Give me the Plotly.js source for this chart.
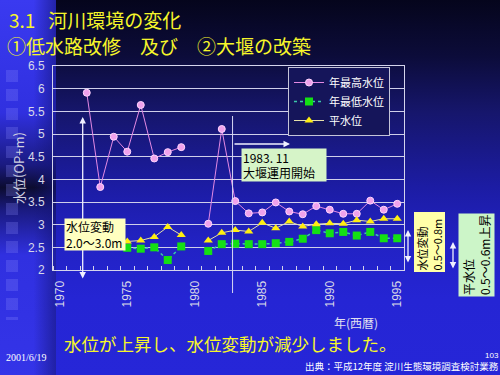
<!DOCTYPE html>
<html>
<head>
<meta charset="utf-8">
<script src="https://cdn.plot.ly/plotly-3.0.1.min.js"></script>
<style>
  html, body { margin: 0; padding: 0; width: 500px; height: 375px; overflow: hidden; }
  #bg { position: absolute; left: 0; top: 0; width: 500px; height: 375px;
        background: linear-gradient(to bottom, #05051c 0%, #0c0c3a 15%, #16166c 30%, #1c1ca4 50%, #2222c4 65%, #2525d4 80%, #2626d8 100%); }
  #strip { position: absolute; left: 0; top: 0; width: 56px; height: 375px;
        background: linear-gradient(to bottom, #3a3af0 0%, #3030e0 30%, #1a1a80 44%, #0c0c30 50%, #1a1a80 56%, #3030e0 68%, #3434e8 100%); }
  #strip::after { content: ""; position: absolute; left: 0; top: 0; width: 56px; height: 375px;
        background: linear-gradient(to right, rgba(0,0,0,0) 60%, rgba(20,20,120,0.6) 100%); }
  #sq { position: absolute; left: 6px; top: 70px; width: 12px; height: 250px;
        background: repeating-linear-gradient(to bottom, rgba(140,140,255,0.25) 0px, rgba(140,140,255,0.25) 12px, rgba(0,0,0,0) 12px, rgba(0,0,0,0) 19px); }
  #chart { position: absolute; left: 0; top: 0; width: 500px; height: 375px; }
</style>
</head>
<body>
<div id="bg"></div>
<div id="strip"></div>
<div id="sq"></div>
<div id="chart"></div>
<script>
// ---- data ----
const years = [1970,1971,1972,1973,1974,1975,1976,1977,1978,1979,1980,1981,1982,1983,1984,1985,1986,1987,1988,1989,1990,1991,1992,1993,1994,1995];
const annualMax = [null,null,5.91,3.83,4.94,4.61,5.64,4.46,4.60,4.71,null,3.02,5.11,3.52,3.25,3.27,3.49,3.29,3.23,3.41,3.33,3.24,3.24,3.53,3.33,3.46];
const annualMin = [null,null,null,null,null,2.49,2.47,2.50,2.22,2.52,null,2.42,2.57,2.58,2.57,2.57,2.59,2.62,2.69,2.88,2.81,2.84,2.76,2.84,2.70,2.70];
const meanLevel = [null,null,null,null,null,2.63,2.65,2.73,2.95,2.77,null,2.65,2.82,2.88,2.85,3.04,2.92,3.07,2.96,3.01,3.03,3.02,3.10,3.07,3.13,3.13];
const seriesNames = ['年最高水位','年最低水位','平水位'];
const xTickVals = [1970,1975,1980,1985,1990,1995];
const xTickText = ['1970','1975','1980','1985','1990','1995'];
const yTickVals = [2,2.5,3,3.5,4,4.5,5,5.5,6,6.5];
const yTickText = ['2','2.5','3','3.5','4','4.5','5','5.5','6','6.5'];
const damStartYear = 1982.8;

const JP = '"Noto Sans CJK JP", "Noto Sans", sans-serif';
const NUM = '"Liberation Sans", Arial, sans-serif';

const traces = [
  { x: years, y: annualMax, name: seriesNames[0], type: 'scatter', mode: 'lines+markers',
    line: { color: '#e48ae4', width: 1 },
    marker: { symbol: 'circle', size: 7, color: '#f0a2ec', line: { color: '#ffd6ff', width: 1 } } },
  { x: years, y: annualMin, name: seriesNames[1], type: 'scatter', mode: 'lines+markers',
    line: { color: '#3cc8a8', width: 1.5, dash: 'dot' },
    marker: { symbol: 'square', size: 8, color: '#14e014' } },
  { x: years, y: meanLevel, name: seriesNames[2], type: 'scatter', mode: 'lines+markers',
    line: { color: '#e6e0a8', width: 1 },
    marker: { symbol: 'triangle-up', size: 8, color: '#ffee10' } }
];

const W = 500, H = 375, L = 53, R = 96, T = 66, B = 105;
const pw = W - L - R, ph = H - T - B;
const px = v => (v - L) / pw;          // pixel x -> paper
const py = v => (H - B - v) / ph;      // pixel y -> paper

function label(x, y, text, font, extra) {
  return Object.assign({ xref: 'paper', yref: 'paper', x: px(x), y: py(y), text: text,
    showarrow: false, xanchor: 'center', yanchor: 'middle', font: font }, extra || {});
}
function arrow(x, y, ax, ay, both) {
  return { xref: 'paper', yref: 'paper', x: px(x), y: py(y), ax: ax, ay: ay, text: '',
    showarrow: true, arrowhead: 2, arrowside: both ? 'end+start' : 'end', arrowsize: 1,
    arrowwidth: 1.3, arrowcolor: '#f0f0ff' };
}

const annotations = [
  label(7, 19.5, '3.1\u00a0\u00a0 河川環境の変化', { family: JP, size: 19, color: '#f6f62a' }, { xanchor: 'left' }),
  label(5, 46, '①低水路改修　及び　②大堰の改築', { family: JP, size: 19, color: '#f6f62a' }, { xanchor: 'left' }),
  label(284, 165, '1983. 11<br>大堰運用開始', { family: JP, size: 12, color: '#000000' },
        { align: 'left', bgcolor: '#d6f4c8', width: 82, height: 30 }),
  arrow(290, 144, -57, 0, false),
  arrow(82.7, 117, 0, 163, true),
  label(94.5, 234, '水位変動<br>2.0〜3.0m', { family: JP, size: 12, color: '#000000' },
        { align: 'left', bgcolor: '#ffffc0', width: 58, height: 29 }),
  arrow(408, 230, 0, 34, true),
  arrow(453, 242, 0, 28, true),
  label(429, 242.5, '水位変動<br>0.5〜0.8m', { family: JP, size: 11, color: '#000000' },
        { textangle: -90, align: 'left', bgcolor: '#ffffa8', width: 57, height: 28 }),
  label(476, 255, '平水位<br>0.5〜0.6m上昇', { family: JP, size: 12, color: '#000000' },
        { textangle: -90, align: 'left', bgcolor: '#ccf5c8', width: 80, height: 33 }),
  label(356, 322, '年(西暦)', { family: JP, size: 12, color: '#e0e0f0' }),
  label(230, 343, '水位が上昇し、水位変動が減少しました。', { family: JP, size: 17.5, color: '#f6f62a' }),
  label(4, 357, '2001/6/19', { family: '"Liberation Serif", serif', size: 10, color: '#ffffff' }, { xanchor: 'left' }),
  label(483, 355, '103', { family: NUM, size: 8, color: '#ffffff' }, { xanchor: 'left' }),
  label(303, 366, '出典：平成12年度 淀川生態環境調査検討業務', { family: JP, size: 9.5, color: '#ffffff' }, { xanchor: 'left' })
];

const shapes = [
  { type: 'line', xref: 'x', yref: 'paper', x0: damStartYear, x1: damStartYear, y0: py(293), y1: py(116),
    line: { color: '#d8d8f4', width: 1 } }
];

const layout = {
  width: W, height: H,
  margin: { l: L, r: R, t: T, b: B },
  paper_bgcolor: 'rgba(0,0,0,0)',
  plot_bgcolor: 'rgba(0,0,0,0)',
  xaxis: { range: [1969.5, 1995.5], tickvals: xTickVals, ticktext: xTickText, tickangle: -90,
           ticks: '', showgrid: false, zeroline: false, showline: true, mirror: true,
           linecolor: '#d4d4ec', linewidth: 1, ticklabelstandoff: 5,
           tickfont: { family: NUM, size: 12, color: '#d8d8e8' },
           minor: { tick0: 1969.5, dtick: 1, ticks: 'inside', ticklen: 4, tickcolor: '#d4d4ec', tickwidth: 1, showgrid: false } },
  yaxis: { range: [2, 6.5], tickvals: yTickVals, ticktext: yTickText, ticks: '',
           showgrid: true, gridcolor: '#cfcfea', gridwidth: 1, zeroline: false,
           showline: true, mirror: true, linecolor: '#d4d4ec', linewidth: 1, ticklabelstandoff: 5,
           tickfont: { family: NUM, size: 12, color: '#d8d8e8' },
           title: { text: '水位(OP+m)', standoff: 0, font: { family: JP, size: 13, color: '#d0d0e0' } } },
  legend: { x: px(288), y: py(67), xanchor: 'left', yanchor: 'top', bgcolor: '#15155a',
            bordercolor: '#c4c4d8', borderwidth: 1, font: { family: JP, size: 11, color: '#ffffff' },
            tracegroupgap: 0, itemwidth: 30 },
  showlegend: true,
  annotations: annotations,
  shapes: shapes
};

Plotly.newPlot('chart', traces, layout, { displayModeBar: false, staticPlot: true });
</script>
</body>
</html>
